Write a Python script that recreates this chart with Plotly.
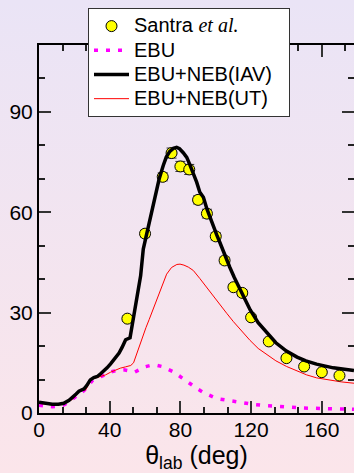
import base64
import plotly.graph_objects as go

# ---------------- data ----------------
theta_exp = [50, 60, 70, 75, 80, 85, 90, 95, 100, 105, 110, 115, 120, 130, 140, 150, 160, 170]
sig_exp = [28.2, 53.6, 70.6, 77.7, 73.7, 72.8, 63.7, 59.6, 52.8, 45.6, 37.6, 35.9, 28.6, 21.4, 16.4, 13.9, 12.2, 11.2]
err_exp = [0.8, 1.0, 1.2, 1.5, 1.5, 1.5, 1.2, 1.3, 1.1, 1.0, 0.9, 0.9, 0.7, 0.6, 0.5, 0.4, 0.4, 0.3]

theta_iav = [0, 4, 7.5, 11, 14, 17, 19, 21, 22.6, 24, 25.5, 27, 29, 31, 33, 35, 36.8, 38.5, 40.5, 43,
             45.3, 47, 49, 51.5, 53, 54.5, 56, 57.5, 59, 60.5, 62, 64.7, 66, 68, 70.3, 72, 74, 76, 77.9,
             79.5, 81.6, 83.6, 85.5, 87.3, 89.2, 91, 93, 95, 97.5, 100.5, 102.4, 105, 108, 110.5, 113,
             116.5, 119.5, 124, 128.8, 134, 140, 146, 151, 157, 166.5, 172, 178.2]
sig_iav = [3.2, 2.8, 2.6, 2.6, 2.9, 3.8, 4.6, 5.7, 6.5, 6.9, 7.2, 8.2, 9.9, 10.6, 10.9, 11.8, 12.6, 13.5, 14.7, 16.3,
           17.9, 19.6, 21.9, 22.5, 27.0, 31.5, 36.0, 41.0, 49.0, 52.5, 56.5, 62.0, 65.5, 70.0, 74.0, 76.5, 78.2, 79.1, 79.4,
           79.0, 77.8, 76.4, 74.0, 71.8, 69.0, 66.0, 64.5, 61.0, 57.2, 53.3, 50.9, 47.2, 43.5, 40.5, 37.8,
           34.4, 30.8, 27.0, 24.0, 21.0, 18.5, 16.7, 15.6, 14.6, 13.5, 13.0, 12.7]

theta_ut = [0, 4, 7.5, 11, 14, 17, 18.9, 21, 22.6, 24, 26.4, 28, 29.2, 31, 34, 37.7, 40.5, 43.4, 46, 49,
            51.9, 53.5, 54.7, 56.5, 58.4, 60.5, 62.3, 64.5, 67, 69.5, 72.2, 75, 78, 79.8, 82, 84.5, 87.3,
            91, 94.9, 98.6, 102, 106.2, 110, 113.7, 115.6, 119.4, 124, 128.8, 134, 140.1, 146, 151.4,
            157.1, 164.6, 171, 178.2]
sig_ut = [2.9, 2.6, 2.4, 2.5, 2.7, 3.5, 4.1, 5.3, 6.4, 6.7, 6.9, 8.4, 9.7, 10.3, 10.7, 11.4, 12.2, 12.9, 13.4, 13.8,
          14.2, 15.0, 16.9, 19.5, 22.4, 25.5, 27.9, 31.0, 34.2, 38.0, 41.5, 43.5, 44.4, 44.5, 44.2, 43.6, 42.6,
          40.2, 37.5, 34.7, 32.5, 29.8, 27.3, 25.0, 23.9, 21.7, 19.3, 17.4, 15.6, 13.9, 12.5, 11.4,
          10.5, 9.8, 9.3, 8.9]

theta_ebu = [0, 4, 7.5, 11, 14.1, 17, 20.4, 23, 25.5, 28, 30.2, 33, 35.3, 38, 41.5, 45, 48.1, 51, 54.1, 57,
             60, 63, 66.3, 69.5, 72.6, 75.7, 78.8, 81.3, 83.9, 86.8, 89.7, 92.8, 95.8, 99, 102, 105.3, 108.6,
             112, 115.6, 119, 122.2, 128.8, 135.4, 142.4, 149, 155.6, 162.8, 169.7, 176.9, 178.2]
sig_ebu = [2.3, 2.0, 1.9, 2.0, 2.4, 3.4, 4.7, 5.8, 6.7, 8.3, 9.7, 10.4, 10.9, 11.6, 12.4, 12.8, 12.9, 12.6, 12.2, 13.0,
           13.8, 14.2, 14.3, 13.9, 13.2, 12.4, 11.3, 10.3, 9.2, 8.2, 7.2, 6.2, 5.4, 4.7, 4.2, 3.9, 3.6,
           3.2, 2.9, 2.7, 2.5, 2.2, 1.9, 1.7, 1.5, 1.4, 1.3, 1.2, 1.1, 1.1]

x_ticks = [0, 40, 80, 120, 160]
y_ticks = [0, 30, 60, 90]

# ---------------- figure ----------------
W, H = 354, 473
ML, MR, MT, MB = 39, 0, 45, 60
pw, ph = W - ML - MR, H - MT - MB

FONT = "Liberation Sans, Arial, sans-serif"


def px_x(p):
    return (p - ML) / pw


def px_y(p):
    return 1 + (MT - p) / ph


def svg_uri(svg):
    return "data:image/svg+xml;base64," + base64.b64encode(svg.encode()).decode()


bg_src = svg_uri(
    f'<svg xmlns="http://www.w3.org/2000/svg" width="{W}" height="{H}" preserveAspectRatio="none">'
    '<defs><linearGradient id="g" x1="0" y1="0" x2="0" y2="1">'
    '<stop offset="0" stop-color="#eae4f6"/><stop offset="1" stop-color="#fbe5ea"/>'
    '</linearGradient></defs>'
    f'<rect width="{W}" height="{H}" fill="url(#g)"/></svg>')


def big(s):
    return f"<span style='font-size:20px'>{s}</span>"


fig = go.Figure()

fig.add_trace(go.Scatter(
    x=theta_ebu, y=sig_ebu, mode="lines", name=big("EBU"), legendrank=2,
    line=dict(color="#ff00ff", width=3.5, dash="4px,8px")))
fig.add_trace(go.Scatter(
    x=theta_ut, y=sig_ut, mode="lines", name=big("EBU+NEB(UT)"), legendrank=4,
    line=dict(color="#ff0000", width=1)))
fig.add_trace(go.Scatter(
    x=theta_exp, y=sig_exp, mode="markers", legendrank=1,
    name=big("Santra <span style='font-family:Liberation Serif, serif'><i>et al.</i></span>"),
    marker=dict(color="#ffff00", size=11, line=dict(color="#000000", width=1)),
    error_y=dict(type="data", array=err_exp, color="#333333", thickness=1, width=5)))
fig.add_trace(go.Scatter(
    x=theta_iav, y=sig_iav, mode="lines", name=big("EBU+NEB(IAV)\u00a0\u00a0"), legendrank=3,
    line=dict(color="#000000", width=3.5)))
# helper trace for right-side tick axis
fig.add_trace(go.Scatter(x=theta_exp, y=sig_exp, yaxis="y2", mode="none",
                         showlegend=False, hoverinfo="skip"))

tickstyle = dict(ticks="inside", ticklen=12, tickwidth=2, tickcolor="#333333")
minorstyle = dict(ticks="inside", ticklen=6, tickwidth=2, tickcolor="#222222")

fig.update_layout(
    width=W, height=H,
    margin=dict(l=ML, r=MR, t=MT, b=MB, pad=0),
    paper_bgcolor="rgba(0,0,0,0)",
    plot_bgcolor="rgba(0,0,0,0)",
    font=dict(family=FONT, size=21, color="#000000"),
    showlegend=True,
    legend=dict(x=px_x(88), y=px_y(8), xanchor="left", yanchor="top",
                bgcolor="#ffffff", bordercolor="#333333", borderwidth=1,
                itemwidth=35, traceorder="normal",
                font=dict(family=FONT, size=16.3, color="#000000")),
    images=[dict(source=bg_src, xref="paper", yref="paper",
                 x=-ML / pw, y=1 + MT / ph, sizex=W / pw, sizey=H / ph,
                 xanchor="left", yanchor="top", sizing="stretch", layer="below")],
    xaxis=dict(range=[0, (W - ML) / 1.7675], tickvals=x_ticks, ticktext=[str(v) for v in x_ticks],
               showline=True, linecolor="#000000", linewidth=2, mirror="ticks",
               showgrid=False, zeroline=False,
               minor=dict(dtick=40 / 3, tick0=0, **minorstyle),
               tickfont=dict(size=21), ticklabelstandoff=-3,
               title=dict(text="θ<sub>lab</sub> (deg)", font=dict(size=25), standoff=2),
               **tickstyle),
    yaxis=dict(range=[0, 110], tickvals=y_ticks, ticktext=[str(v) for v in y_ticks],
               showline=True, linecolor="#000000", linewidth=2, mirror=False,
               showgrid=False, zeroline=False,
               minor=dict(dtick=10, tick0=0, **minorstyle),
               tickfont=dict(size=21),
               **tickstyle),
    yaxis2=dict(range=[0, 110], overlaying="y", side="right", anchor="x",
                tickvals=y_ticks, showticklabels=False, showline=False,
                showgrid=False, zeroline=False,
                minor=dict(dtick=10, tick0=0, **minorstyle),
                **tickstyle),
)

fig.write_html("out.html")
